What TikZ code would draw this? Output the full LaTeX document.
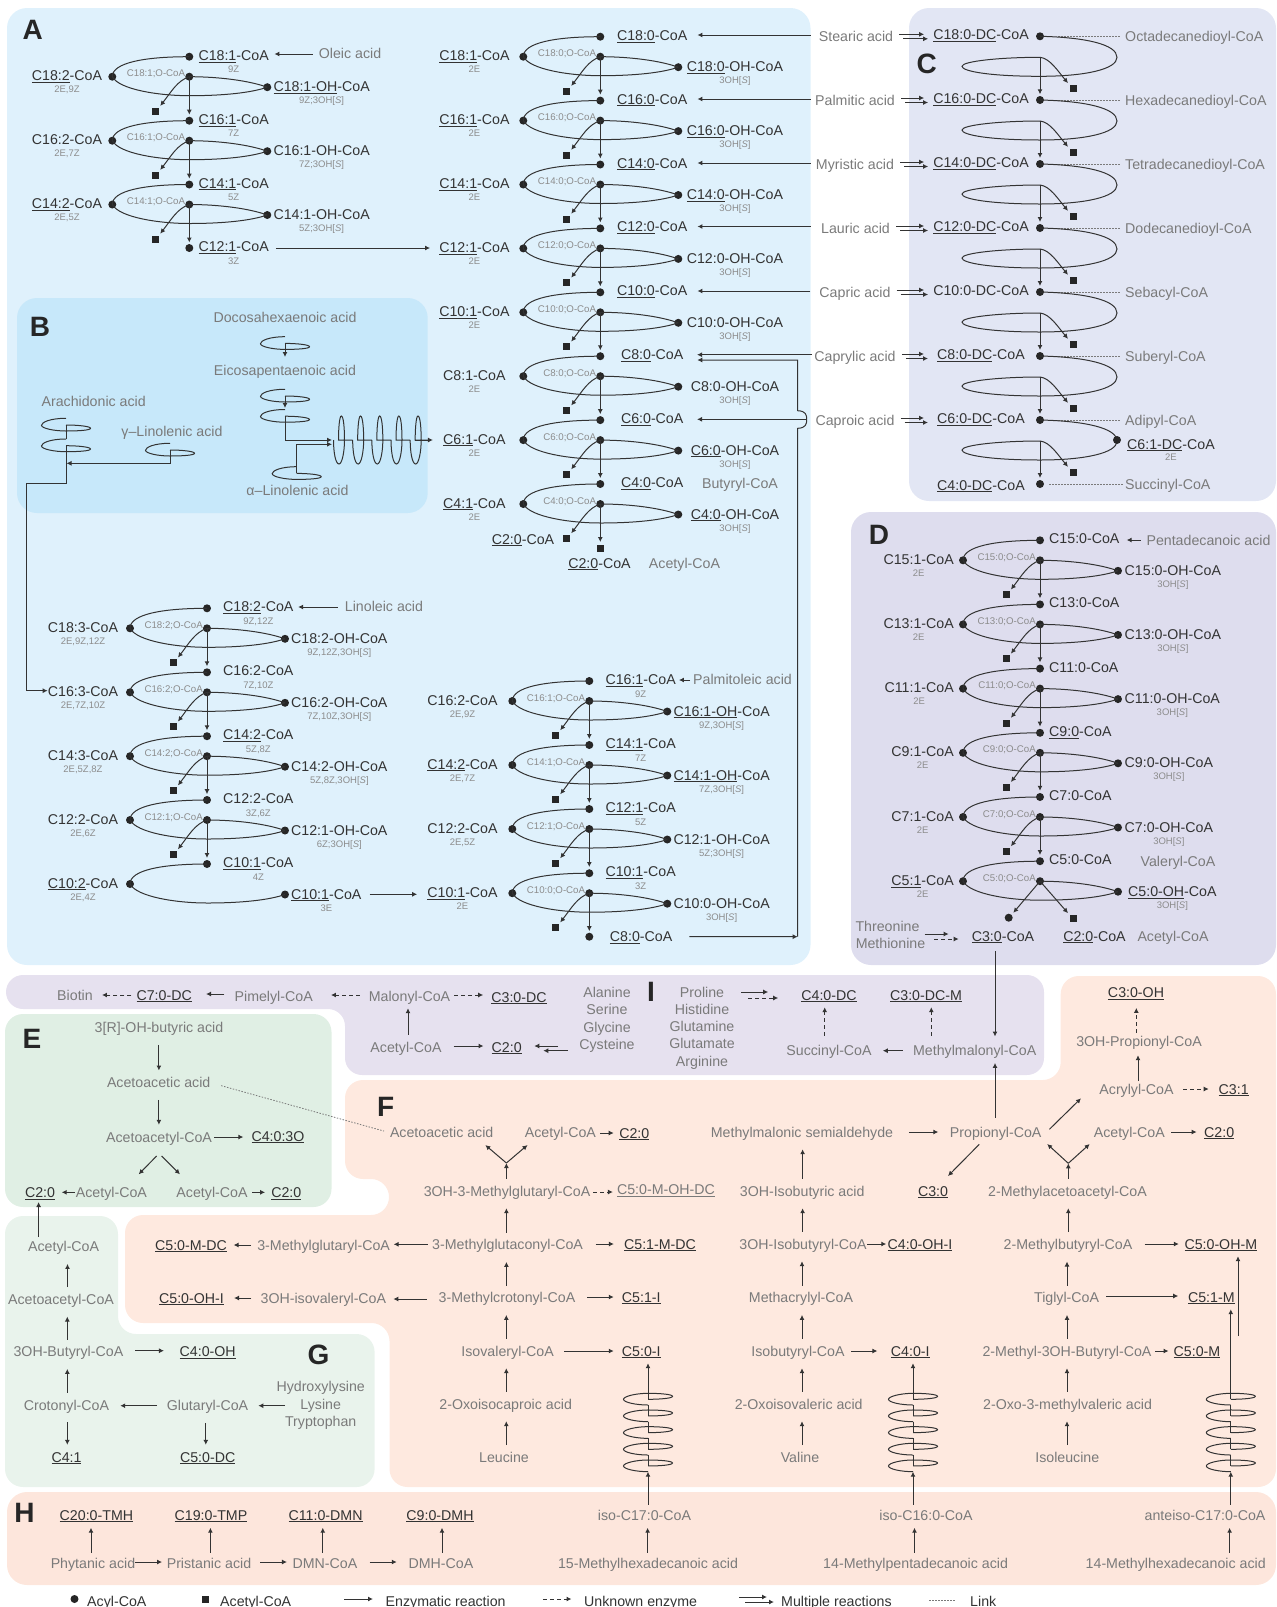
\documentclass[tikz,border=0pt]{standalone}
\usepackage{fontspec}
\setmainfont{Liberation Sans}
\usetikzlibrary{arrows.meta}
\definecolor{dk}{HTML}{333333}
\definecolor{gy}{HTML}{7A7A7A}
\definecolor{sb}{HTML}{8C8C8C}
\definecolor{pA}{HTML}{DFF1FC}
\definecolor{pB}{HTML}{C7E8FA}
\definecolor{pC}{HTML}{E2E6F4}
\definecolor{pD}{HTML}{DEDDEE}
\definecolor{pI}{HTML}{E6E1EF}
\definecolor{pE}{HTML}{E0EFE4}
\definecolor{pG}{HTML}{E9F3EC}
\definecolor{pF}{HTML}{FEE9DF}
\definecolor{pH}{HTML}{FDE6DC}
\tikzset{
 lab/.style={inner sep=0pt,text height=10pt,text depth=0pt,text=dk,font=\fontsize{14.2}{14}\selectfont},
 gry/.style={lab,text=gy},
 lnk/.style={lab,text=gy},
 sub/.style={inner sep=0pt,text height=7pt,text depth=0pt,text=sb,font=\fontsize{9.5}{10}\selectfont},
 osub/.style={inner sep=0pt,text height=7pt,text depth=0pt,text=sb,font=\fontsize{9.7}{10}\selectfont},
 big/.style={inner sep=0pt,text=black!85,font=\fontsize{28}{28}\bfseries\selectfont},
 dot/.style={circle,fill=black!85,inner sep=0pt,minimum size=8pt},
 sq/.style={rectangle,fill=black!85,inner sep=0pt,minimum size=7pt},
 cv/.style={draw=black!80,line width=1pt},
 ar/.style={cv,-{Latex[length=5pt,width=5pt]}},
 dsh/.style={dash pattern=on 4pt off 3pt},
 dtl/.style={draw=gy,line width=.8pt,dash pattern=on 1.5pt off 1.5pt},
 panel/.style={rounded corners=18pt}
}
\newcommand\unl[1]{\leavevmode\vtop{\hbox{#1}\kern1.2pt\hrule height .9pt}}
\newcommand\os{3OH[\textit{S}]}
\newcommand\Gn[4]{\node[gry] (#1) at (#2,#3) {#4};}
\newcommand\Dn[4]{\node[lab] (#1) at (#2,#3) {#4};}
\newcommand\vup[4][]{\draw[ar,shorten <=7pt,shorten >=12pt,#1] (#3.north -| #2,0) -- (#4.south -| #2,0);}
\newcommand\vdn[4][]{\draw[ar,shorten <=12pt,shorten >=7pt,#1] (#3.south -| #2,0) -- (#4.north -| #2,0);}
\newcommand\arR[6][]{\draw[ar,shorten <=#4pt,shorten >=#5pt,#1] (#2.east |- 0,#6) -- (#3.west |- 0,#6);}
\newcommand\arL[6][]{\draw[ar,shorten <=#4pt,shorten >=#5pt,#1] (#2.west |- 0,#6) -- (#3.east |- 0,#6);}
% beta-oxidation cycle
\def\topoff{9}\def\leftoff{10}\def\rightoff{6}
\newcommand\cycTop[6]{%
 \node[dot] (\cP T) at (\cX,\cY) {};
 \node[dot] (\cP L) at (\cX-77,\cY+20) {};
 \node[dot] (\cP R) at (\cX+78,\cY+30.5) {};
 \node[lab,anchor=west] (\cP tn) at (\cX+\topoff,\cY-1.5) {#1};
 \node[sub] (\cP ts) at (\cP tn.center |- 0,\cY+12.5) {#2};
 \node[lab,anchor=east] (\cP ln) at (\cX-77-\leftoff,\cY+19) {#3};
 \node[sub] (\cP ls) at (\cP ln.center |- 0,\cY+32.5) {#4};
 \node[lab,anchor=west] (\cP rn) at (\cX+78+\rightoff,\cY+30) {#5};
 \node[sub] (\cP rs) at (\cP rn.center |- 0,\cY+43.5) {#6};
 \draw[cv] (\cP T.center) .. controls (\cX-45,\cY) and (\cX-77,\cY+6) .. (\cP L.center) .. controls (\cX-70,\cY+33) and (\cX-30,\cY+39) .. (\cX,\cY+39) .. controls (\cX+35,\cY+39) and (\cX+62,\cY+36) .. (\cP R.center);
}
\newcommand\cycO[1]{%
 \node[dot] (\cP O) at (\cX,\cY+20) {};
 \node[osub,anchor=east] (\cP ol) at (\cX-4,\cY+16.5) {#1};
 \draw[cv] (\cP R.center) .. controls (\cX+60,\cY+24) and (\cX+30,\cY+20) .. (\cP O.center);
}
\newcommand\cycSetup[3]{\def\cP{#1}\def\cX{#2}\def\cY{#3}}
\newcommand\cycB[7]{%
 \cycTop{#1}{#2}{#3}{#4}{#6}{#7}
 \cycO{#5}
 \node[sq] (\cP S) at (\cX-34,\cY+54.5) {};
 \coordinate (\cP N) at (\cX,\cY+58);
 \draw[ar] (\cP O.center) -- (\cP N);
 \draw[ar,shorten >=2pt] (\cP O.center) .. controls (\cX-12,\cY+24) and (\cX-18,\cY+35) .. (\cP S.north east);
}
\newcommand\cyc[3]{\cycSetup{#1}{#2}{#3}\cycB}
\newcommand\lastT[6]{% bottom dot with name
 \node[dot] (#1T) at (#2,#3) {};
 \node[lab,anchor=west] (#1tn) at (#2+#4,#3-1.5) {#5};
 \node[sub] (#1ts) at (#1tn.center |- 0,#3+12.5) {#6};
}
% column C
\newcommand\dcrow[8]{%
 \node[dot] (#1T) at (1040,#2) {};
 \node[lab,anchor=east] (#1n) at (#7,#2-1.5) {#5};
 \node[lnk,anchor=west] (#1k) at (1125,#2) {#6};
 \node[gry] (#1a) at (#4,#2) {#3};
 \draw[dtl,shorten <=14pt,shorten >=5pt] (#1T.east) -- (#1k.west |- #1T.east);
 \draw[ar,shorten <=6pt,shorten >=#8pt] (#1a.east |- 0,#2-2) -- (#1n.west |- 0,#2-2);
 \draw[ar,shorten <=10pt,shorten >=#8pt-4pt] (#1a.east |- 0,#2+2.5) -- (#1n.west |- 0,#2+2.5);
}
\newcommand\dcloop[2]{%
 \coordinate (#1J) at (1040,#2+21);
 \coordinate (#1N) at (1040,#2+58);
 \node[sq] (#1S) at (1073,#2+52) {};
 \draw[cv] (#1T.center) .. controls (1085,#2+1) and (1117,#2+8) .. (1117,#2+21) .. controls (1117,#2+33) and (1085,#2+40) .. (1040,#2+40) .. controls (990,#2+40) and (962,#2+35) .. (962,#2+30) .. controls (962,#2+25) and (1000,#2+21) .. (#1J);
 \draw[ar] (#1J) -- (#1N);
 \draw[ar,shorten >=2pt] (#1J) .. controls (1050,#2+22) and (1058,#2+35) .. (#1S.north west);
}
% mini spiral (panel B)
\newcommand\msp[3]{%
 \coordinate (#1) at (#2,#3+6.7);
 \draw[cv] (#2,#3) .. controls (#2-16,#3) and (#2-24.5,#3+4) .. (#2-24.5,#3+7) .. controls (#2-24.5,#3+10) and (#2-12,#3+12.7) .. (#2,#3+12.7) .. controls (#2+12,#3+12.7) and (#2+24.5,#3+12) .. (#2+24.5,#3+10) .. controls (#2+24.5,#3+8) and (#2+12,#3+6.7) .. (#1);
}
% vertical spiral (panel F)
\newcommand\vsp[2]{%
 \coordinate (#1) at (#2,1399.3);
 \coordinate (#1b) at (#2,1471.7);
 \foreach \i in {0,...,4}{
  \pgfmathsetmacro\yy{1393.3+16.67*\i}
  \draw[cv] (#2,\yy+6) .. controls (#2+12,\yy+6) and (#2+24.5,\yy+5) .. (#2+24.5,\yy+3) .. controls (#2+24.5,\yy+1) and (#2+12,\yy) .. (#2,\yy) .. controls (#2-12,\yy) and (#2-24.5,\yy+3) .. (#2-24.5,\yy+6) .. controls (#2-24.5,\yy+9) and (#2-12,\yy+11.7) .. (#2,\yy+11.7);
  \ifnum\i<4 \draw[cv] (#2,\yy+11.7) -- (#2,\yy+22.67);\fi
 }
}
\begin{document}
\begin{tikzpicture}[x=1pt,y=-1pt]
\useasboundingbox (0,0) rectangle (1277,1607);
% ---------- panels
\fill[pA,rounded corners=20pt] (7,8) rectangle (810.5,965);
\fill[pB,rounded corners=20pt] (17,298) rectangle (427.7,513);
\fill[pC,rounded corners=20pt] (909,8) rectangle (1276,501);
\fill[pD,rounded corners=20pt] (851,512) rectangle (1276,965);
\fill[pI,rounded corners=17pt] (600,975) -- (1044,975) -- (1044,1075) -- (345,1075) -- (345,1009) -- (6,1009) -- (6,975) -- cycle;
\fill[pE,rounded corners=18pt] (5,1014) rectangle (331.5,1207);
\fill[pG,panel] (60,1216) -- (118,1216) -- (118,1334) -- (374.6,1334) -- (374.6,1487) -- (5,1487) -- (5,1216) -- cycle;
\fill[pF,panel] (700,1080) -- (1060.7,1080) -- (1060.7,976) -- (1276,976) -- (1276,1487) -- (389.5,1487) -- (389.5,1323) -- (125,1323) -- (125,1215) -- (389,1215) -- (389,1179) -- (345,1179) -- (345,1080) -- cycle;
\fill[pH,rounded corners=20pt] (7,1492) rectangle (1276,1585);
% ---------- letters
\node[big] (lA) at (32.7,30) {A};
\node[big] (lB) at (40,326.7) {B};
\node[big] (lC) at (926.7,64) {C};
\node[big] (lD) at (879,535) {D};
\node[big] (lE) at (32,1039) {E};
\node[big] (lF) at (385.7,1107) {F};
\node[big] (lG) at (318.6,1355) {G};
\node[big] (lH) at (24.4,1512.7) {H};
\node[big] (lI) at (651,992) {I};
% ---------- A column 1
\def\topoff{9}\def\leftoff{10}\def\rightoff{6}
\cyc{a1}{189.3}{56.7}{\unl{C18:1}-CoA}{9Z}{\unl{C18:2}-CoA}{2E,9Z}{C18:1;O-CoA}{\unl{C18:1-OH}-CoA}{9Z;\os}
\cyc{a2}{189.3}{120.7}{\unl{C16:1}-CoA}{7Z}{C16:2-CoA}{2E,7Z}{C16:1;O-CoA}{C16:1-OH-CoA}{7Z;\os}
\cyc{a3}{189.3}{184.5}{\unl{C14:1}-CoA}{5Z}{\unl{C14:2}-CoA}{2E,5Z}{C14:1;O-CoA}{C14:1-OH-CoA}{5Z;\os}
\lastT{a4}{189.3}{248}{9}{\unl{C12:1}-CoA}{3Z}
\Gn{oleic}{350}{53.5}{Oleic acid}
\arL{oleic}{a1tn}{6}{5.5}{54}
% ---------- A column 2
\def\topoff{16.5}\def\leftoff{13.6}\def\rightoff{8.3}
\cyc{b1}{600.3}{36.7}{\unl{C18:0}-CoA}{}{\unl{C18:1}-CoA}{2E}{C18:0;O-CoA}{\unl{C18:0}-OH-CoA}{\os}
\cyc{b2}{600.3}{100.6}{\unl{C16:0}-CoA}{}{\unl{C16:1}-CoA}{2E}{C16:0;O-CoA}{\unl{C16:0}-OH-CoA}{\os}
\cyc{b3}{600.3}{164.5}{\unl{C14:0}-CoA}{}{\unl{C14:1}-CoA}{2E}{C14:0;O-CoA}{\unl{C14:0}-OH-CoA}{\os}
\cyc{b4}{600.3}{228.4}{\unl{C12:0}-CoA}{}{\unl{C12:1}-CoA}{2E}{C12:0;O-CoA}{C12:0-OH-CoA}{\os}
\cyc{b5}{600.3}{292.3}{\unl{C10:0}-CoA}{}{\unl{C10:1}-CoA}{2E}{C10:0;O-CoA}{C10:0-OH-CoA}{\os}
\def\topoff{20.5}\def\leftoff{17.6}\def\rightoff{12.3}
\cyc{b6}{600.3}{356.2}{\unl{C8:0}-CoA}{}{C8:1-CoA}{2E}{C8:0;O-CoA}{C8:0-OH-CoA}{\os}
\cyc{b7}{600.3}{420.1}{\unl{C6:0}-CoA}{}{\unl{C6:1}-CoA}{2E}{C6:0;O-CoA}{\unl{C6:0}-OH-CoA}{\os}
\cyc{b8}{600.3}{484}{\unl{C4:0}-CoA}{}{\unl{C4:1}-CoA}{2E}{C4:0;O-CoA}{\unl{C4:0}-OH-CoA}{\os}
\Gn{butyryl}{740}{483.5}{Butyryl-CoA}
\node[sq] (b9S) at (600.3,548) {};
\Dn{c2a}{523}{539}{\unl{C2:0}-CoA}
\Dn{c2b}{599.5}{563}{\unl{C2:0}-CoA}
\Gn{acetA}{684.5}{563}{Acetyl-CoA}
\arR{a4tn}{b4ln}{7}{9}{248}
% ---------- acids between A and C, panel C
\dcrow{r1}{36.3}{Stearic acid}{856}{\unl{C18:0-DC}-CoA}{Octadecanedioyl-CoA}{1029}{9}
\dcrow{r2}{100}{Palmitic acid}{855}{\unl{C16:0-DC}-CoA}{Hexadecanedioyl-CoA}{1029}{9}
\dcrow{r3}{164}{Myristic acid}{855}{\unl{C14:0-DC}-CoA}{Tetradecanedioyl-CoA}{1029}{9}
\dcrow{r4}{228}{Lauric acid}{855.5}{\unl{C12:0-DC}-CoA}{Dodecanedioyl-CoA}{1029}{9}
\dcrow{r5}{292}{Capric acid}{855}{C10:0-DC-CoA}{Sebacyl-CoA}{1029}{9}
\dcrow{r6}{356}{Caprylic acid}{855}{\unl{C8:0-DC}-CoA}{Suberyl-CoA}{1025}{13}
\dcrow{r7}{420}{Caproic acid}{855}{\unl{C6:0-DC}-CoA}{Adipyl-CoA}{1025}{13}
\dcloop{r1}{36.3}\dcloop{r2}{100}\dcloop{r3}{164}\dcloop{r4}{228}\dcloop{r5}{292}\dcloop{r6}{356}\dcloop{r7}{420}
\node[dot] (r8T) at (1040,484) {};
\node[lab,anchor=east] (r8n) at (1025,485) {\unl{C4:0-DC}-CoA};
\node[lnk,anchor=west] (r8k) at (1125,484) {Succinyl-CoA};
\draw[dtl,shorten <=5pt,shorten >=2pt] (r8T.east) -- (r8k.west |- r8T.east);
\node[dot] (r7D) at (1117,440) {};
\node[lab,anchor=west] (r7dn) at (1127,444) {\unl{C6:1-DC}-CoA};
\node[sub] (r7ds) at (r7dn.center |- 0,457) {2E};
\arL{r1a}{b1tn}{8}{10}{35}
\arL{r2a}{b2tn}{4}{10}{99}
\arL{r3a}{b3tn}{5}{10}{163}
\arL{r4a}{b4tn}{10}{10}{226.5}
\arL{r5a}{b5tn}{9}{10}{291}
\arL{r6a}{b6tn}{2}{13.5}{354.7}
\arL{r7a}{b7tn}{9}{13.5}{419.3}
% ---------- lower left group
\def\topoff{16}\def\leftoff{11.7}\def\rightoff{6}
\cyc{d1}{207}{608.3}{\unl{C18:2}-CoA}{9Z,12Z}{C18:3-CoA}{2E,9Z,12Z}{C18:2;O-CoA}{C18:2-OH-CoA}{9Z,12Z,\os}
\cyc{d2}{207}{672.3}{C16:2-CoA}{7Z,10Z}{C16:3-CoA}{2E,7Z,10Z}{C16:2;O-CoA}{C16:2-OH-CoA}{7Z,10Z,\os}
\cyc{d3}{207}{736.2}{\unl{C14:2}-CoA}{5Z,8Z}{C14:3-CoA}{2E,5Z,8Z}{C14:2;O-CoA}{C14:2-OH-CoA}{5Z,8Z,\os}
\cyc{d4}{207}{800}{C12:2-CoA}{3Z,6Z}{C12:2-CoA}{2E,6Z}{C12:1;O-CoA}{C12:1-OH-CoA}{6Z;\os}
\cycSetup{d5}{207}{864}
\cycTop{\unl{C10:1}-CoA}{4Z}{\unl{C10:2}-CoA}{2E,4Z}{\unl{C10:1}-CoA}{3E}
\Gn{linol}{384}{606.5}{Linoleic acid}
\arL{linol}{d1tn}{7}{4.5}{607}
% ---------- lower right group
\def\topoff{16}\def\leftoff{14.5}\def\rightoff{6}
\cyc{e1}{589.3}{681}{\unl{C16:1}-CoA}{9Z}{C16:2-CoA}{2E,9Z}{C16:1;O-CoA}{\unl{C16:1-OH}-CoA}{9Z,\os}
\cyc{e2}{589.3}{745}{\unl{C14:1}-CoA}{7Z}{\unl{C14:2}-CoA}{2E,7Z}{C14:1;O-CoA}{\unl{C14:1-OH}-CoA}{7Z,\os}
\cyc{e3}{589.3}{809}{\unl{C12:1}-CoA}{5Z}{C12:2-CoA}{2E,5Z}{C12:1;O-CoA}{C12:1-OH-CoA}{5Z;\os}
\cyc{e4}{589.3}{873.2}{\unl{C10:1}-CoA}{3Z}{\unl{C10:1}-CoA}{2E}{C10:0;O-CoA}{C10:0-OH-CoA}{\os}
\node[dot] (e5T) at (589.3,936.7) {};
\node[lab,anchor=west] (e5n) at (609.7,936.5) {\unl{C8:0}-CoA};
\node[gry,anchor=west] (palm) at (693,679) {Palmitoleic acid};
\arL{palm}{e1tn}{3}{3}{680}
\arR{d5rn}{e4ln}{8}{10}{894.3}
% Caprylic bypass
\coordinate (byp) at (797.7,936.7);
\draw[ar,shorten <=17pt] (e5n.east) -- (byp);
\draw[ar,shorten >=13.7pt] (byp) -- (797.7,428.3) .. controls (806,428) and (806.7,424) .. (806.7,419.4) .. controls (806.7,415) and (806,411) .. (797.7,410.7) -- (797.7,360) -- (b6tn.east |- 0,360);
% ---------- panel B
\Gn{doco}{285}{317.7}{Docosahexaenoic acid}
\msp{m1}{285}{336.7}
\draw[ar] (m1) -- (285,357);
\Gn{eico}{285}{370.7}{Eicosapentaenoic acid}
\msp{m2}{285}{389.3}
\msp{m3}{285}{409.5}
\draw[ar] (m2) -- (285,408);
\coordinate (hs) at (332,440);
\draw[ar] (m3) |- (hs);
\Gn{alin}{297.5}{490.3}{α–Linolenic acid}
\msp{m4}{296.7}{466.7}
\draw[ar] (m4) |- (332,444.3);
\draw[cv] \foreach \i in {0,...,4}{ ({333.5+19.17*\i},440) .. controls ({333.5+19.17*\i},452) and ({335.5+19.17*\i},464) .. ({339+19.17*\i},464) .. controls ({342+19.17*\i},464) and ({344.5+19.17*\i},452) .. ({344.5+19.17*\i},440) .. controls ({344.5+19.17*\i},428) and ({343.5+19.17*\i},416) .. ({341.3+19.17*\i},416) .. controls ({339.5+19.17*\i},416) and ({338.5+19.17*\i},428) .. ({338.5+19.17*\i},440) -- ({352.67+19.17*\i},440) };
\draw[ar,shorten >=10pt] (415,440) -- (b7ln.west |- 0,440);
\Gn{arach}{93.7}{401.7}{Arachidonic acid}
\msp{m5}{66}{418.3}
\msp{m6}{66}{439}
\draw[cv] (m5) -- (66,439);
\Gn{glin}{172}{431.7}{γ–Linolenic acid}
\msp{m7}{170}{443.3}
\draw[ar] (m7) |- (66.5,463.3);
\draw[ar] (m6) -- (66,483) -| (26,690.7) -- (d2ln.west |- 0,690.7);
% ---------- panel D
\def\topoff{9}\def\leftoff{9}\def\rightoff{6.5}
\cyc{f1}{1040}{540.3}{C15:0-CoA}{}{C15:1-CoA}{2E}{C15:0;O-CoA}{C15:0-OH-CoA}{\os}
\cyc{f2}{1040}{604.4}{C13:0-CoA}{}{C13:1-CoA}{2E}{C13:0;O-CoA}{C13:0-OH-CoA}{\os}
\cyc{f3}{1040}{668.6}{C11:0-CoA}{}{C11:1-CoA}{2E}{C11:0;O-CoA}{C11:0-OH-CoA}{\os}
\cyc{f4}{1040}{732.8}{\unl{C9:0}-CoA}{}{C9:1-CoA}{2E}{C9:0;O-CoA}{C9:0-OH-CoA}{\os}
\cyc{f5}{1040}{797}{C7:0-CoA}{}{C7:1-CoA}{2E}{C7:0;O-CoA}{C7:0-OH-CoA}{\os}
\def\rightoff{10}
\cycSetup{f6}{1040}{861.2}
\cycTop{C5:0-CoA}{}{\unl{C5:1}-CoA}{2E}{\unl{C5:0-OH}-CoA}{\os}
\cycO{C5:0;O-CoA}
\node[dot] (f6D) at (1008.7,917.7) {};
\node[sq] (f6S) at (1073,918.3) {};
\draw[ar,shorten >=2.5pt] (f6O.center) -- (f6D.north east);
\draw[ar,shorten >=2pt] (f6O.center) -- (f6S.north west);
\Gn{valer}{1178}{861}{Valeryl-CoA}
\Gn{penta}{1208.5}{540}{Pentadecanoic acid}
\arL{penta}{f1tn}{5.5}{7}{540}
\Dn{c3a}{1003}{936}{\unl{C3:0}-CoA}
\Dn{c2d}{1094.5}{936}{\unl{C2:0}-CoA}
\Gn{acetD}{1173}{936}{Acetyl-CoA}
\Gn{thre}{887.5}{926}{Threonine}
\Gn{meth}{890.5}{943}{Methionine}
\arR{thre}{c3a}{5}{23}{934}
\arR[dsh]{meth}{c3a}{9}{13}{939}
% ---------- panel I
\Gn{biotin}{75}{995}{Biotin}
\Dn{c7dc}{164.2}{995}{\unl{C7:0-DC}}
\Gn{pimel}{273.7}{996}{Pimelyl-CoA}
\Gn{malon}{409.5}{996}{Malonyl-CoA}
\Dn{c3dc}{519}{997}{\unl{C3:0-DC}}
\Gn{acetI}{406}{1047}{Acetyl-CoA}
\Dn{c2i}{506.7}{1047}{\unl{C2:0}}
\Gn{alan}{607}{992}{Alanine}
\Gn{seri}{607}{1009.5}{Serine}
\Gn{glyc}{607}{1027}{Glycine}
\Gn{cyst}{607}{1044}{Cysteine}
\Gn{prol}{702}{992}{Proline}
\Gn{hist}{702}{1009.5}{Histidine}
\Gn{glun}{702}{1026.5}{Glutamine}
\Gn{glum}{702}{1043}{Glutamate}
\Gn{argi}{702}{1061}{Arginine}
\Dn{c4dc}{829}{995}{\unl{C4:0-DC}}
\Dn{c3m}{926}{995}{\unl{C3:0-DC-M}}
\Gn{succ}{829}{1050.7}{Succinyl-CoA}
\Gn{mmal}{974.7}{1050.7}{Methylmalonyl-CoA}
\arL[dsh]{c7dc}{biotin}{5}{9}{995}
\arL{pimel}{c7dc}{10}{14}{994}
\arL[dsh]{malon}{pimel}{9}{18}{995}
\arR[dsh]{malon}{c3dc}{4}{8}{995}
\draw[ar,shorten <=7pt,shorten >=7pt] (acetI.north -| 408,0) -- (malon.south -| 408,0);
\arR{acetI}{c2i}{12}{8}{1046}
\arL{cyst}{c2i}{21}{12.4}{1046}
\arL{cyst}{c2i}{11}{21.4}{1050.7}
\arL{mmal}{succ}{10}{11}{1050.7}
\draw[ar,dsh,shorten <=10pt,shorten >=7pt] (succ.north -| 824.7,0) -- (c4dc.south -| 824.7,0);
\draw[ar,dsh,shorten <=10pt,shorten >=7pt] (mmal.north -| 931.3,0) -- (c3m.south -| 931.3,0);
\arR{prol}{c4dc}{17}{33}{992}
\arR[dsh]{prol}{c4dc}{24}{23}{998}
% ---------- panel E
\Gn{ohbut}{159}{1027.7}{3[R]-OH-butyric acid}
\Gn{acacE}{158.7}{1082.7}{Acetoacetic acid}
\Gn{acylE}{159}{1137}{Acetoacetyl-CoA}
\Dn{c43o}{278}{1136}{\unl{C4:0:3O}}
\Dn{c2e1}{40}{1192.3}{\unl{C2:0}}
\Gn{acetE1}{111.4}{1192.3}{Acetyl-CoA}
\Gn{acetE2}{212}{1192.3}{Acetyl-CoA}
\Dn{c2e2}{286.3}{1192.3}{\unl{C2:0}}
\vdn{158.9}{ohbut}{acacE}
\vdn{158.9}{acacE}{acylE}
\arR{acylE}{c43o}{2}{8}{1137}
\coordinate (eL) at (138.7,1174.3);
\coordinate (eR) at (180,1174.3);
\coordinate (eLs) at (156.6,1156);
\coordinate (eRs) at (161.6,1156);
\draw[ar] (eLs) -- (eL);
\draw[ar] (eRs) -- (eR);
\arL{acetE1}{c2e1}{1}{6.5}{1192.3}
\arR{acetE2}{c2e2}{4.5}{6}{1192.3}
% ---------- panel G
\Gn{acetG}{63.6}{1246.7}{Acetyl-CoA}
\Gn{acylG}{61}{1299.3}{Acetoacetyl-CoA}
\Gn{ohbG}{68.4}{1351.7}{3OH-Butyryl-CoA}
\Dn{c4oh}{207.7}{1351.7}{\unl{C4:0-OH}}
\Gn{crot}{66.4}{1405}{Crotonyl-CoA}
\Gn{glut}{207.5}{1405.7}{Glutaryl-CoA}
\Gn{hylys}{320.7}{1386.7}{Hydroxylysine}
\Gn{lysi}{320.7}{1404}{Lysine}
\Gn{tryp}{320.7}{1421}{Tryptophan}
\Dn{c41}{66.5}{1457}{\unl{C4:1}}
\Dn{c5dc}{207.7}{1457}{\unl{C5:0-DC}}
\draw[ar,shorten <=4.5pt,shorten >=4.5pt] (acetG.north -| 38.6,0) -- (c2e1.south -| 38.6,0);
\vup{67.5}{acylG}{acetG}
\vup{67.3}{ohbG}{acylG}
\vup{67.3}{crot}{ohbG}
\arR{ohbG}{c4oh}{12}{15.5}{1350.7}
\arL{glut}{crot}{9.5}{11}{1405.7}
\arL{lysi}{glut}{15}{10}{1405.7}
\vdn{67.3}{crot}{c41}
\vdn{205.8}{glut}{c5dc}
% ---------- panel F
\Gn{acacF}{441.7}{1132.7}{Acetoacetic acid}
\Gn{acetF}{560.4}{1132.3}{Acetyl-CoA}
\Dn{c2f}{634.3}{1133}{\unl{C2:0}}
\Gn{hmg}{507}{1191}{3OH-3-Methylglutaryl-CoA}
\node[lab,text=gy] (c5mohdc) at (666,1189.3) {\unl{C5:0-M-OH-DC}};
\Gn{mgc}{507.6}{1244.7}{3-Methylglutaconyl-CoA}
\Gn{mgr}{323.6}{1245}{3-Methylglutaryl-CoA}
\Dn{c5mdc}{191}{1245}{\unl{C5:0-M-DC}}
\Dn{c51mdc}{660}{1244}{\unl{C5:1-M-DC}}
\Gn{mcr}{507}{1297.7}{3-Methylcrotonyl-CoA}
\Gn{ohiv}{323.4}{1298}{3OH-isovaleryl-CoA}
\Dn{c5ohi}{191.5}{1298}{\unl{C5:0-OH-I}}
\Dn{c51i}{641.3}{1297}{\unl{C5:1-I}}
\Gn{ivl}{507.6}{1351}{Isovaleryl-CoA}
\Dn{c50i}{641.3}{1351}{\unl{C5:0-I}}
\Gn{oxic}{505.7}{1404}{2-Oxoisocaproic acid}
\Gn{leu}{504}{1457.3}{Leucine}
\draw[dtl,shorten <=11pt,shorten >=6pt] (acacE.east) -- (acacF.west);
\arR{acetF}{c2f}{4}{5.4}{1133}
\coordinate (yf) at (506.4,1163);
\coordinate (yfL) at (485.3,1145);
\coordinate (yfR) at (527.5,1145);
\draw[ar,shorten <=7pt] (hmg.north -| 506.4,0) -- (yf);
\draw[ar] (yf) -- (yfL);
\draw[ar] (yf) -- (yfR);
\arR[dsh]{hmg}{c5mohdc}{3}{4}{1192}
\vup{506.4}{mgc}{hmg}
\arL{mgc}{mgr}{4.5}{3.5}{1244.3}
\arL{mgr}{c5mdc}{6}{6.5}{1245}
\arR{mgc}{c51mdc}{12.5}{10}{1244}
\vup{506.4}{mcr}{mgc}
\arL{mcr}{ohiv}{12}{7}{1299}
\arL{ohiv}{c5ohi}{9}{10}{1298}
\arR{mcr}{c51i}{12}{8}{1297}
\vup{506.3}{ivl}{mcr}
\arR{ivl}{c50i}{10.5}{8}{1351}
\vup{506.3}{oxic}{ivl}
\vup{506.3}{leu}{oxic}
% column 2
\Gn{mmsa}{802}{1132}{Methylmalonic semialdehyde}
\Gn{prop}{995.7}{1132}{Propionyl-CoA}
\Dn{c30}{933}{1191}{\unl{C3:0}}
\Gn{acry}{1136.5}{1089}{Acrylyl-CoA}
\Dn{c31}{1233.7}{1089}{\unl{C3:1}}
\Gn{ohpr}{1139}{1041.7}{3OH-Propionyl-CoA}
\Dn{c3oh}{1136}{992.7}{\unl{C3:0-OH}}
\Gn{acetF2}{1129.3}{1132}{Acetyl-CoA}
\Dn{c2f2}{1219.2}{1132}{\unl{C2:0}}
\Gn{mact}{1067.5}{1191}{2-Methylacetoacetyl-CoA}
\Gn{ohib}{802.2}{1191}{3OH-Isobutyric acid}
\Gn{ohibc}{803}{1244}{3OH-Isobutyryl-CoA}
\Dn{c4ohi}{920}{1244}{\unl{C4:0-OH-I}}
\Gn{macr}{801}{1297.7}{Methacrylyl-CoA}
\Gn{ibut}{798}{1351}{Isobutyryl-CoA}
\Dn{c40i}{910.3}{1351}{\unl{C4:0-I}}
\Gn{oxiv}{798.7}{1404}{2-Oxoisovaleric acid}
\Gn{vali}{800}{1457.3}{Valine}
\Gn{mbut}{1068}{1244.3}{2-Methylbutyryl-CoA}
\Dn{c5ohm}{1220.8}{1244}{\unl{C5:0-OH-M}}
\Gn{tigl}{1066.6}{1297.7}{Tiglyl-CoA}
\Dn{c51m}{1211.3}{1297}{\unl{C5:1-M}}
\Gn{mohb}{1067}{1351}{2-Methyl-3OH-Butyryl-CoA}
\Dn{c50m}{1197}{1351}{\unl{C5:0-M}}
\Gn{oxmv}{1067.6}{1404}{2-Oxo-3-methylvaleric acid}
\Gn{isol}{1067.3}{1457.3}{Isoleucine}
\arR{mmsa}{prop}{15.6}{11.4}{1132}
\draw[ar,shorten <=9.3pt,shorten >=7pt] (prop.north -| 995,0) -- (mmal.south -| 995,0);
\draw[ar,shorten <=10pt,shorten >=9pt] (c3a.south -| 995,0) -- (mmal.north -| 995,0);
\coordinate (pa1) at (1049.4,1129.3);
\coordinate (pa2) at (1081,1098.3);
\coordinate (pb1) at (979.3,1144.3);
\coordinate (pb2) at (948,1176);
\draw[ar] (pa1) -- (pa2);
\draw[ar] (pb1) -- (pb2);
\arR[dsh]{acry}{c31}{9.3}{9.8}{1089}
\draw[ar,shorten <=3.3pt,shorten >=8.3pt] (acry.north -| 1138,0) -- (ohpr.south -| 1138,0);
\draw[ar,dsh,shorten <=3.7pt,shorten >=10pt] (ohpr.north -| 1136.3,0) -- (c3oh.south -| 1136.3,0);
\arR{acetF2}{c2f2}{6}{7.4}{1132}
\coordinate (yg) at (1068.3,1163.3);
\coordinate (ygL) at (1047.2,1144);
\coordinate (ygR) at (1089.7,1144);
\draw[ar,shorten <=7pt] (mact.north -| 1068.3,0) -- (yg);
\draw[ar] (yg) -- (ygL);
\draw[ar] (yg) -- (ygR);
\vup{1068.3}{mbut}{mact}
\vup{802.6}{ohib}{mmsa}
\vup{802.6}{ohibc}{ohib}
\arR{ohibc}{c4ohi}{.5}{1.2}{1244}
\vup{802}{macr}{ohibc}
\vup{802}{ibut}{macr}
\vup{802}{oxiv}{ibut}
\vup{802}{vali}{oxiv}
\arR{ibut}{c40i}{6.5}{13.4}{1351}
\arR{mbut}{c5ohm}{12.2}{5.5}{1244}
\vup{1067}{tigl}{mbut}
\arR{tigl}{c51m}{7}{9.6}{1296}
\vup{1067}{mohb}{tigl}
\arR{mohb}{c50m}{3.4}{5}{1351}
\vup{1067}{oxmv}{mohb}
\vup{1067}{isol}{oxmv}
\draw[ar,shorten <=0pt,shorten >=7pt] (1238,1336) -- (c5ohm.south -| 1238,0);
% spirals
\vsp{s1}{648}
\vsp{s2}{913}
\vsp{s3}{1230.8}
\draw[ar,shorten >=7pt] (s1) -- (c50i.south -| 648,0);
\draw[ar,shorten >=7pt] (s2) -- (c40i.south -| 913,0);
\draw[ar,shorten >=7pt] (s3) -- (c51m.south -| 1230.8,0);
% ---------- panel H
\Dn{tmh}{96.4}{1515}{\unl{C20:0-TMH}}
\Dn{tmp}{211}{1515}{\unl{C19:0-TMP}}
\Dn{dmn}{325.6}{1515}{\unl{C11:0-DMN}}
\Dn{dmh}{440}{1515}{\unl{C9:0-DMH}}
\Gn{iso17}{644.5}{1515}{iso-C17:0-CoA}
\Gn{iso16}{926}{1515}{iso-C16:0-CoA}
\Gn{ant17}{1205}{1515}{anteiso-C17:0-CoA}
\Gn{phyt}{93}{1563}{Phytanic acid}
\Gn{pris}{209}{1563}{Pristanic acid}
\Gn{dmnc}{325}{1563}{DMN-CoA}
\Gn{dmhc}{441}{1563}{DMH-CoA}
\Gn{m15}{648}{1563}{15-Methylhexadecanoic acid}
\Gn{m14p}{915.6}{1563}{14-Methylpentadecanoic acid}
\Gn{m14h}{1175.7}{1563}{14-Methylhexadecanoic acid}
\tikzset{hv/.style={shorten <=5pt,shorten >=7.5pt}}
\vup[hv]{91}{phyt}{tmh}
\vup[hv]{210.4}{pris}{tmp}
\vup[hv]{322.8}{dmnc}{dmn}
\vup[hv]{442}{dmhc}{dmh}
\vup[hv]{647.6}{m15}{iso17}
\vup[hv]{914.5}{m14p}{iso16}
\vup[hv]{1229.6}{m14h}{ant17}
\arR{phyt}{pris}{0}{4.5}{1562}
\arR{pris}{dmnc}{9}{5.5}{1562}
\arR{dmnc}{dmhc}{12}{11.7}{1562}
\draw[ar,shorten <=5pt] (iso17.north -| 648,0) -- (s1b);
\draw[ar,shorten <=5pt] (iso16.north -| 913,0) -- (s2b);
\draw[ar,shorten <=5pt] (ant17.north -| 1230.8,0) -- (s3b);
% ---------- legend
\node[dot] (lg1) at (74.5,1599) {};
\node[lab,anchor=west] (lg1t) at (87,1601) {Acyl-CoA};
\node[sq] (lg2) at (205,1599) {};
\node[lab,anchor=west] (lg2t) at (220,1601) {Acetyl-CoA};
\node[lab,anchor=west] (lg3t) at (385.5,1601) {Enzymatic reaction};
\node[lab,anchor=west] (lg4t) at (584,1601) {Unknown enzyme};
\node[lab,anchor=west] (lg5t) at (781,1601) {Multiple reactions};
\node[lab,anchor=west] (lg6t) at (970,1601) {Link};
\arR{lg2t}{lg3t}{53}{12.5}{1599}
\arR[dsh]{lg3t}{lg4t}{37}{12.5}{1599}
\arR{lg4t}{lg5t}{41.5}{14}{1597}
\arR{lg4t}{lg5t}{48}{7}{1602}
\draw[dtl,shorten <=37.5pt,shorten >=14pt] (lg5t.east |- 0,1600) -- (lg6t.west |- 0,1600);
\end{tikzpicture}
\end{document}
